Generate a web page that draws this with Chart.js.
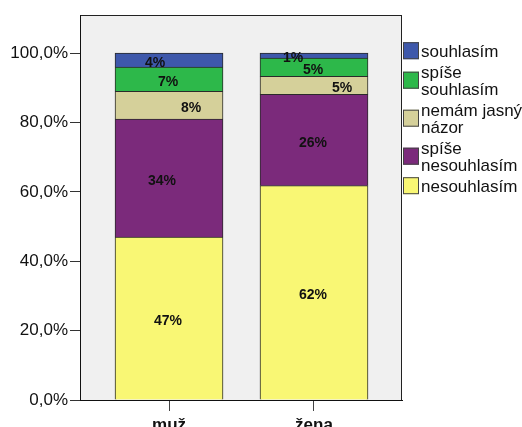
<!DOCTYPE html>
<html>
<head>
<meta charset="utf-8">
<script src="https://cdn.jsdelivr.net/npm/chart.js@4"></script>
<style>
  body { margin: 0; background: #fff; }
  #chart { display: block; }
</style>
</head>
<body>
<canvas id="chart" width="522" height="427"></canvas>
<script>
// categories (x axis)
const categories = ['muž', 'žena'];
// series, bottom to top
const seriesNames = ['nesouhlasím', 'spíše nesouhlasím', 'nemám jasný názor', 'spíše souhlasím', 'souhlasím'];
const legendLines = [['nesouhlasím'], ['spíše', 'nesouhlasím'], ['nemám jasný', 'názor'], ['spíše', 'souhlasím'], ['souhlasím']];
// percentages per category
const nesouhlasim = [47, 61.8];
const spiseNesouhlasim = [34, 26.3];
const nemamNazor = [8, 5.2];
const spiseSouhlasim = [7, 5.3];
const souhlasim = [4, 1.4];
// y axis ticks
const yTicks = [0, 20, 40, 60, 80, 100];

const seriesValues = [nesouhlasim, spiseNesouhlasim, nemamNazor, spiseSouhlasim, souhlasim];
const colors = ['#f9f774', '#7b2a7b', '#d5d09a', '#2db84a', '#3e58ab'];
// horizontal nudge of value labels so small segments don't collide
const labelShift = [[-1, -1], [-7, -1], [22, 28], [-1, -1], [-14, -21]];

const fontFamily = '"Liberation Sans", Arial, sans-serif';

const plotBox = {
    id: 'plotBox',
    beforeDraw(chart) {
        const { ctx, chartArea: a } = chart;
        ctx.save();
        ctx.fillStyle = '#f0f0f0';
        ctx.fillRect(a.left, a.top, a.right - a.left, a.bottom - a.top);
        ctx.strokeStyle = '#222';
        ctx.lineWidth = 1;
        ctx.strokeRect(a.left + 0.5, a.top + 0.5, a.right - a.left - 1, a.bottom - a.top);
        ctx.restore();
    }
};

const valueLabels = {
    id: 'valueLabels',
    afterDatasetsDraw(chart) {
        const ctx = chart.ctx;
        ctx.save();
        ctx.font = 'bold 14px ' + fontFamily;
        ctx.fillStyle = '#111';
        ctx.textAlign = 'center';
        ctx.textBaseline = 'middle';
        chart.data.datasets.forEach((ds, i) => {
            chart.getDatasetMeta(i).data.forEach((bar, j) => {
                const v = ds.data[j].y;
                ctx.fillText(Math.round(v) + '%', bar.x + labelShift[i][j], (bar.y + bar.base) / 2 + 3);
            });
        });
        ctx.restore();
    }
};

const sideLegend = {
    id: 'sideLegend',
    afterDraw(chart) {
        const ctx = chart.ctx;
        const x = chart.chartArea.right + 1;
        ctx.save();
        ctx.font = '17px ' + fontFamily;
        ctx.textBaseline = 'alphabetic';
        let baseline = 56.7;
        for (let i = seriesNames.length - 1; i >= 0; i--) {
            const lines = legendLines[i];
            const last = baseline + (lines.length - 1) * 17;
            const mid = (baseline + last) / 2 - 6.5;
            ctx.fillStyle = colors[i];
            ctx.fillRect(x, mid - 8, 16, 17);
            ctx.strokeStyle = '#444';
            ctx.lineWidth = 1;
            ctx.strokeRect(x + 0.5, mid - 7.5, 15, 16);
            ctx.fillStyle = '#111';
            lines.forEach((t, k) => ctx.fillText(t, x + 18, baseline + k * 17));
            baseline = last + 21;
        }
        ctx.restore();
    }
};

new Chart(document.getElementById('chart'), {
    type: 'bar',
    data: {
        datasets: seriesValues.map((vals, i) => ({
            label: seriesNames[i],
            data: vals.map((v, j) => ({ x: j, y: v })),
            backgroundColor: colors[i],
            borderColor: '#2a2a2a',
            borderWidth: 1,
            barThickness: 108
        }))
    },
    options: {
        responsive: false,
        animation: false,
        layout: { padding: { top: 15, right: 120, left: 0, bottom: 0 } },
        plugins: {
            legend: { display: false },
            tooltip: { enabled: false }
        },
        scales: {
            x: {
                type: 'linear',
                stacked: true,
                offset: false,
                min: -0.614,
                max: 1.607,
                afterBuildTicks: scale => { scale.ticks = categories.map((c, i) => ({ value: i })); },
                afterFit: scale => { scale.height = 27; },
                grid: { offset: false, drawOnChartArea: false, tickLength: 11, color: '#444' },
                border: { display: true, color: '#111', width: 1 },
                ticks: {
                    padding: 4,
                    color: '#111',
                    font: { family: fontFamily, size: 17, weight: 'bold' },
                    callback: v => categories[v]
                }
            },
            y: {
                stacked: true,
                min: 0,
                max: 111,
                afterBuildTicks: scale => { scale.ticks = yTicks.map(v => ({ value: v })); },
                afterFit: scale => { scale.width = 80; },
                grid: { drawOnChartArea: false, tickLength: 10, color: '#333' },
                border: { display: true, color: '#111', width: 1 },
                ticks: {
                    padding: 2,
                    color: '#111',
                    font: { family: fontFamily, size: 17 },
                    callback: v => v.toFixed(1).replace('.', ',') + '%'
                }
            }
        }
    },
    plugins: [plotBox, valueLabels, sideLegend]
});
</script>
</body>
</html>
